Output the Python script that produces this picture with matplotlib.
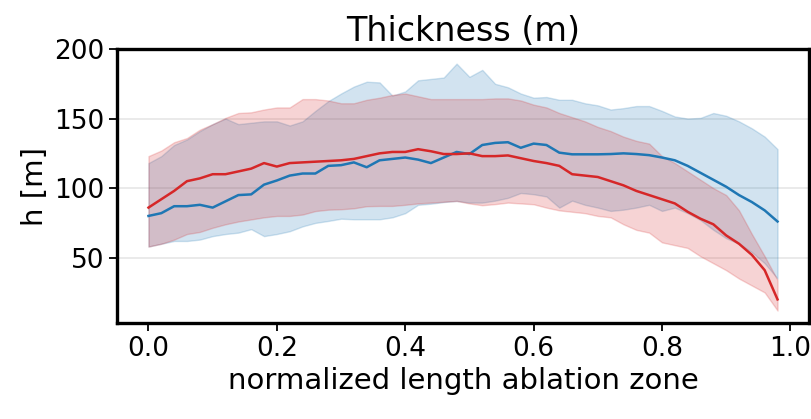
import numpy as np
import matplotlib
matplotlib.use("Agg")
import matplotlib.pyplot as plt

# normalized position along the ablation zone (50 samples)
x = np.arange(50) * 0.02

red_mean = [86, 92, 98, 105, 107, 110, 110, 112, 114, 118,
            115.5, 118, 118.5, 119, 119.5, 120, 121, 123, 125, 126,
            126, 128, 126.5, 124.5, 124.5, 125, 123, 123, 123.5, 121.5,
            119.5, 118, 116, 110, 109, 108, 105, 102, 98, 95,
            92, 89, 83, 78, 74, 66, 60, 52, 41, 20]
red_upper = [123, 127, 133, 136, 142, 146, 150.5, 154, 154.5, 156.5,
             158, 158, 164, 164, 163, 161, 161, 163.5, 165, 167,
             168, 166, 164, 164, 164, 164, 164, 164.5, 164.5, 163,
             160, 158, 154, 151, 148, 144, 141, 137, 134, 132,
             123, 118, 112, 106, 100, 95, 84, 67, 51, 34]
red_lower = [58, 60, 63, 67, 68.5, 71.5, 74, 76, 77.5, 79,
             80, 80, 81, 83.5, 84.5, 84.8, 85.5, 87, 87.2, 87.2,
             88, 89, 89.6, 90.2, 90.8, 89, 87.7, 88.5, 89.6, 89,
             88.4, 86, 84, 83, 82, 80, 79, 74, 70, 68,
             61, 59, 57, 51, 46, 41, 35, 30, 25, 12]

blue_mean = [80, 82, 87, 87, 88, 86, 90.5, 95, 95.5, 102.5,
             105.5, 109, 110.5, 110.5, 116, 116.5, 118.5, 115, 120, 121,
             122, 120.5, 118, 122, 126, 124.5, 131, 132.5, 133, 129,
             132, 131, 125.5, 124.3, 124.3, 124.3, 124.5, 125, 124.5, 123.7,
             122, 120, 116, 111, 106, 101, 95, 90, 84, 76]
blue_upper = [118, 123, 131, 135, 141, 146, 150, 146, 147, 148,
              148, 145, 148, 155.5, 162.5, 168, 173, 176.5, 176, 166.5,
              169.5, 177.5, 178.5, 179.5, 189.5, 180, 185, 175, 172.5, 168,
              165, 165.5, 163.5, 163.5, 161, 159.5, 156.5, 157.5, 159, 159,
              155.5, 151.5, 150, 150.5, 154, 152, 148, 143, 137, 128]
blue_lower = [58, 60, 62, 62, 63, 65.5, 67, 68, 70.5, 65.5,
              67, 69, 72.5, 75, 76.4, 78, 77.6, 77.6, 77.6, 79,
              82, 88, 88.8, 90, 90.8, 89.6, 89.6, 91, 93, 96.5,
              95.6, 94, 86, 91, 88, 86, 83.6, 84.5, 86, 88,
              83.6, 86, 82, 77, 70, 64, 60, 54, 46, 35]

fig = plt.figure(figsize=(8.11, 4.19), dpi=100)
ax = fig.add_axes([0.1443, 0.229, 0.8532, 0.654])

ax.fill_between(x, blue_lower, blue_upper, color="tab:blue", alpha=0.2)
ax.fill_between(x, red_lower, red_upper, color="tab:red", alpha=0.2)
ax.plot(x, blue_mean, color="tab:blue", lw=1.8)
ax.plot(x, red_mean, color="tab:red", lw=1.8)

ax.set_ylim(3, 200)
ax.set_yticks([50, 100, 150, 200])
ax.set_xticks([0.0, 0.2, 0.4, 0.6, 0.8, 1.0])
ax.yaxis.grid(True, color="#e6e6e6", lw=1.2)
ax.set_axisbelow(True)

ax.set_title("Thickness (m)", fontsize=24)
ax.set_xlabel("normalized length ablation zone", fontsize=21)
ax.set_ylabel("h [m]", fontsize=21)
ax.tick_params(labelsize=19, length=5.5, width=1.3)
for s in ax.spines.values():
    s.set_linewidth(2.4)

fig.savefig("out.png", dpi=100)
